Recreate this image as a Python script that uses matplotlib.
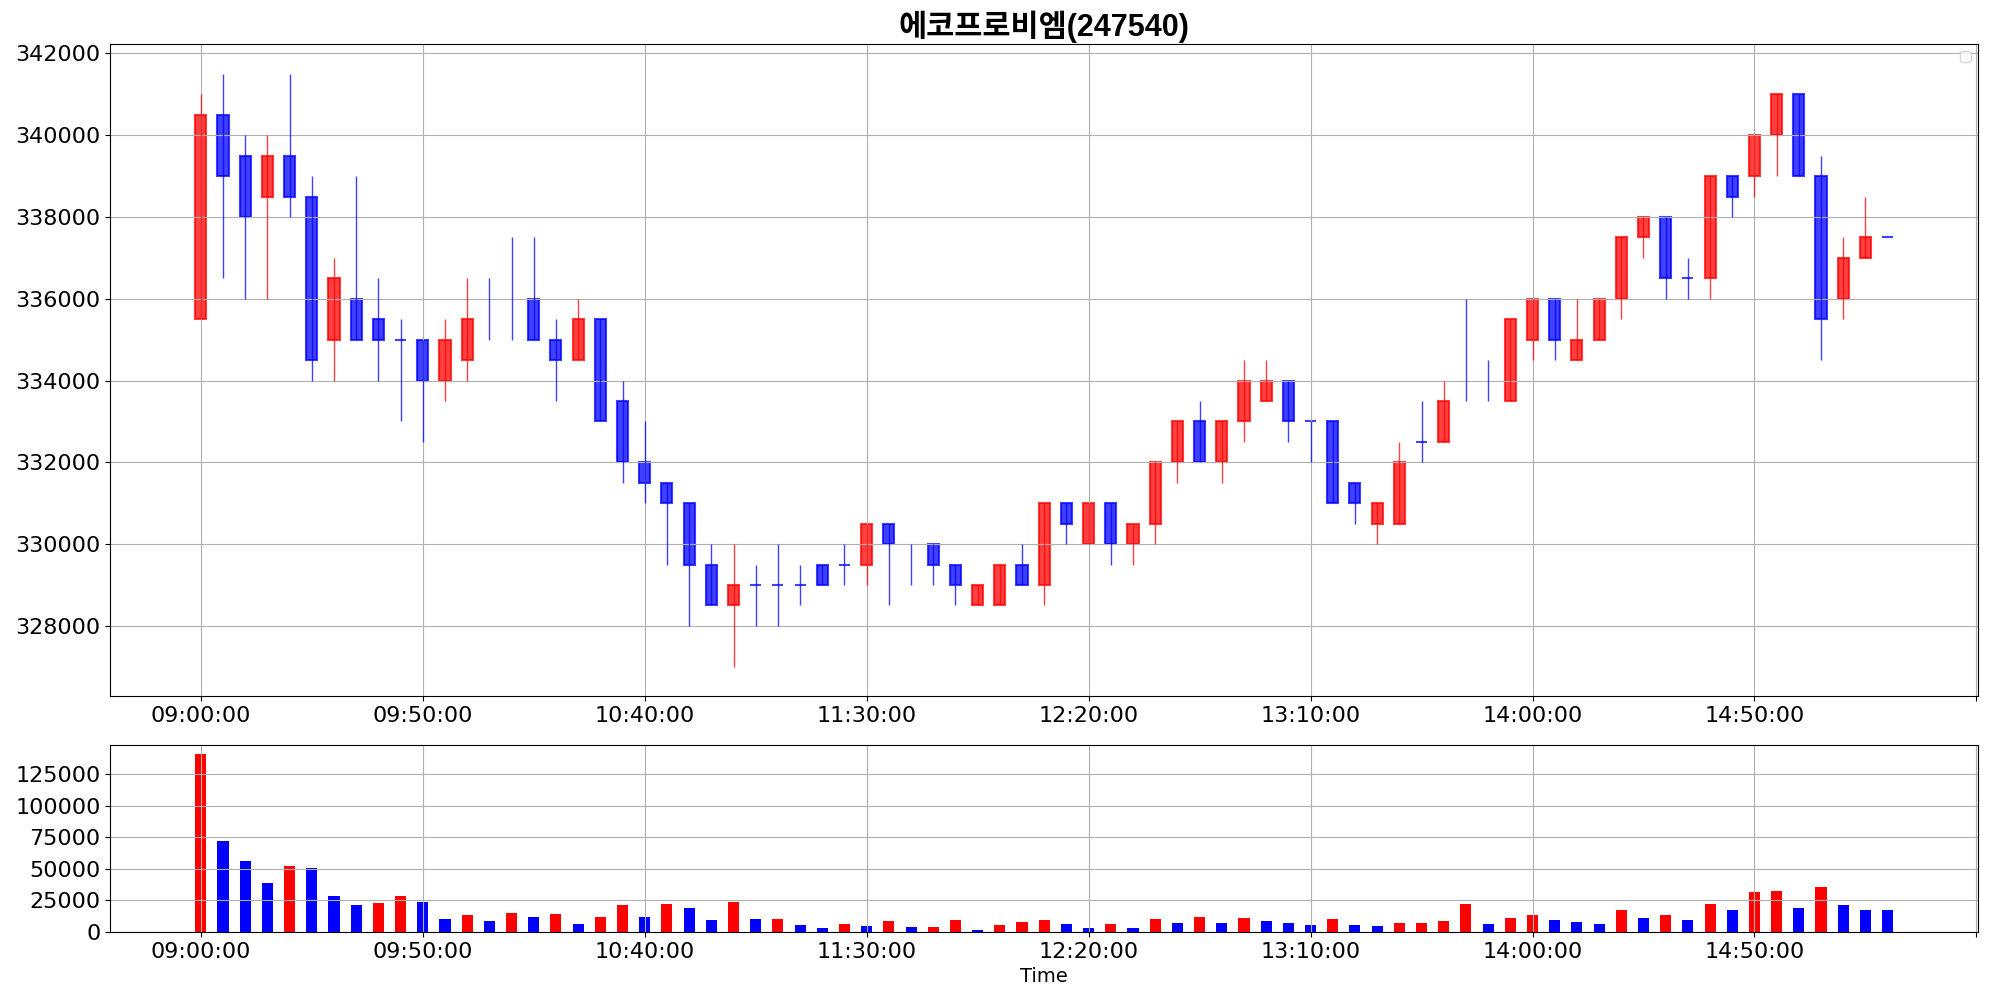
import numpy as np
import matplotlib
matplotlib.use("Agg")
import matplotlib.pyplot as plt

title = "에코프로비엠(247540)"

# 5-minute OHLC, 09:00 .. 15:20
opens = [335500, 340500, 339500, 338500, 339500, 338500, 335000, 336000, 335500, 335000,
         335000, 334000, 334500, 335000, 335000, 336000, 335000, 334500, 335500, 333500,
         332000, 331500, 331000, 329500, 328500, 329000, 329000, 329000, 329500, 329500,
         329500, 330500, 329000, 330000, 329500, 328500, 328500, 329500, 329000, 331000,
         330000, 331000, 330000, 330500, 332000, 333000, 332000, 333000, 333500, 334000,
         333000, 333000, 331500, 330500, 330500, 332500, 332500, 333500, 333500, 333500,
         335000, 336000, 334500, 335000, 336000, 337500, 338000, 336500, 336500, 339000,
         339000, 340000, 341000, 339000, 336000, 337000, 337500]
highs = [341000, 341500, 340000, 340000, 341500, 339000, 337000, 339000, 336500, 335500,
         335000, 335500, 336500, 336500, 337500, 337500, 335500, 336000, 335500, 334000,
         333000, 331500, 331000, 330000, 330000, 329500, 330000, 329500, 329500, 330000,
         330500, 330500, 330000, 330000, 329500, 329000, 329500, 330000, 331000, 331000,
         331000, 331000, 330500, 332000, 333000, 333500, 333000, 334500, 334500, 334000,
         333000, 333000, 331500, 331000, 332500, 333500, 334000, 336000, 334500, 335500,
         336000, 336000, 336000, 336000, 337500, 338000, 338000, 337000, 339000, 339000,
         340000, 341000, 341000, 339500, 337500, 338500, 337500]
lows = [335500, 336500, 336000, 336000, 338000, 334000, 334000, 335000, 334000, 333000,
        332500, 333500, 334000, 335000, 335000, 335000, 333500, 334500, 333000, 331500,
        331000, 329500, 328000, 328500, 327000, 328000, 328000, 328500, 329000, 329000,
        329000, 328500, 329000, 329000, 328500, 328500, 328500, 329000, 328500, 330000,
        330000, 329500, 329500, 330000, 331500, 332000, 331500, 332500, 333500, 332500,
        332000, 331000, 330500, 330000, 330500, 332000, 332500, 333500, 333500, 333500,
        334500, 334500, 334500, 335000, 335500, 337000, 336000, 336000, 336000, 338000,
        338500, 339000, 339000, 334500, 335500, 337000, 337500]
closes = [340500, 339000, 338000, 339500, 338500, 334500, 336500, 335000, 335000, 335000,
          334000, 335000, 335500, 335000, 335000, 335000, 334500, 335500, 333000, 332000,
          331500, 331000, 329500, 328500, 329000, 329000, 329000, 329000, 329000, 329500,
          330500, 330000, 329000, 329500, 329000, 329000, 329500, 329000, 331000, 330500,
          331000, 330000, 330500, 332000, 333000, 332000, 333000, 334000, 334000, 333000,
          333000, 331000, 331000, 331000, 332000, 332500, 333500, 333500, 333500, 335500,
          336000, 335000, 335000, 336000, 337500, 338000, 336500, 336500, 339000, 338500,
          340000, 341000, 339000, 335500, 337000, 337500, 337500]
volumes = [141000, 72000, 56000, 39000, 52000, 51000, 28500, 21500, 23000, 28500,
           24000, 10500, 13500, 9000, 15000, 12000, 14500, 6500, 12000, 21500,
           12000, 22500, 19000, 9500, 24000, 10500, 10500, 5500, 3000, 6500,
           5000, 9000, 4000, 4000, 9500, 1500, 5500, 8000, 9500, 6500,
           3000, 6500, 3000, 10500, 7000, 12000, 7000, 11000, 9000, 7000,
           5500, 10500, 5500, 5000, 7000, 7000, 9000, 22500, 6500, 11000,
           13500, 9500, 8000, 6500, 17500, 11000, 13500, 9500, 22500, 17500,
           32000, 32500, 19000, 36000, 21500, 17500, 17500]
vol_up = [1, 0, 0, 0, 1, 0, 0, 0, 1, 1, 0, 0, 1, 0, 1, 0, 1, 0, 1, 1,
          0, 1, 0, 0, 1, 0, 1, 0, 0, 1, 0, 1, 0, 1, 1, 0, 1, 1, 1, 0,
          0, 1, 0, 1, 0, 1, 0, 1, 0, 0, 0, 1, 0, 0, 1, 1, 1, 1, 0, 1,
          1, 0, 0, 0, 1, 0, 1, 0, 1, 0, 1, 1, 0, 1, 0, 0, 0]
tick_labels = ["09:00:00", "09:50:00", "10:40:00", "11:30:00", "12:20:00",
               "13:10:00", "14:00:00", "14:50:00", ""]

o = np.array(opens); h = np.array(highs); l = np.array(lows); c = np.array(closes)
x = np.arange(len(o))
col = np.where(c > o, "red", "blue")
# flat bars sitting on the low show no body in the original
body = ~((o == c) & (c == l) & (h > l))

fig = plt.figure(figsize=(19.89, 9.99), dpi=100)
ax = fig.add_axes([0.0555, 0.3029, 0.939, 0.6528])
ax2 = fig.add_axes([0.0555, 0.0671, 0.939, 0.1867])

# candles
ax.vlines(x, l, h, colors=col, linewidth=1.0, alpha=0.75)
ax.bar(x[body], (c - o)[body], bottom=o[body], width=0.5, color=col[body],
       edgecolor=col[body], linewidth=1.5, alpha=0.75)
ax.set_title(title, fontsize=22, fontweight="bold",
             family=["Liberation Sans", "Noto Sans CJK KR", "DejaVu Sans"])
ax.legend([], [], loc="upper right")
ax.grid(True)
ax.set_xticks(range(0, 81, 10))
ax.set_xticklabels(tick_labels)
ax.tick_params(labelsize=16)

# volume
vcol = ["red" if u else "blue" for u in vol_up]
ax2.bar(x, volumes, width=0.5, color=vcol)
ax2.grid(True)
ax2.set_xlim(ax.get_xlim())
ax2.set_yticks(range(0, 125001, 25000))
ax2.set_xticks(range(0, 81, 10))
ax2.set_xticklabels(tick_labels)
ax2.tick_params(labelsize=16)
ax2.set_xlabel("Time", fontsize=14)

plt.savefig("out.png", dpi=100)
